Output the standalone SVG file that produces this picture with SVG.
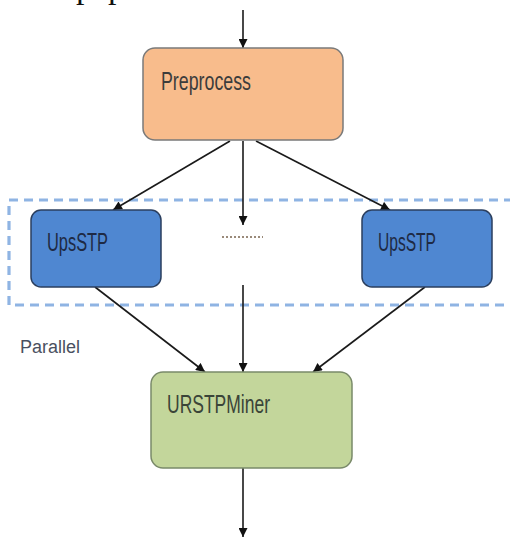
<svg xmlns="http://www.w3.org/2000/svg" width="510" height="539" viewBox="0 0 510 539">
  <style>
    .lbl { font-family: "Liberation Sans", Arial, sans-serif; font-size: 25px; }
    .conn { stroke: #1a1a1a; stroke-width: 1.6; fill: none; marker-end: url(#arrow); }
  </style>
  <defs>
    <marker id="arrow" viewBox="0 0 10 10" refX="10" refY="5" markerWidth="11" markerHeight="9" markerUnits="userSpaceOnUse" orient="auto">
      <path d="M0,0 L10,5 L0,10 z" fill="#111"/>
    </marker>
  </defs>
  <rect x="0" y="0" width="510" height="539" fill="#ffffff"/>
  <text x="76" y="-2.5" font-family="Liberation Serif, Times New Roman, serif" font-size="34" fill="#111">pap</text>

  <rect id="parallel-box" x="9" y="200" width="510" height="105" fill="none" stroke="#8fb4e3" stroke-width="3.2" stroke-dasharray="9,6"/>

  <g id="connectors">
    <line class="conn" x1="243" y1="10" x2="243" y2="48"/>
    <line class="conn" x1="230" y1="141" x2="113" y2="210"/>
    <line class="conn" x1="243" y1="141" x2="243" y2="225"/>
    <line class="conn" x1="256" y1="141" x2="390" y2="210"/>
    <line class="conn" x1="95" y1="287" x2="205" y2="372"/>
    <line class="conn" x1="243" y1="285" x2="243" y2="372"/>
    <line class="conn" x1="425" y1="287" x2="313" y2="372"/>
    <line class="conn" x1="243" y1="468" x2="243" y2="537"/>
  </g>

  <g id="preprocess">
    <rect x="143" y="48" width="200" height="92" rx="12" fill="#f8bc8c" stroke="#7a7a7a" stroke-width="1.5"/>
    <text class="lbl" x="161" y="90" fill="#3c3c3c" textLength="90" lengthAdjust="spacingAndGlyphs">Preprocess</text>
  </g>

  <g id="upsstp-left">
    <rect x="31" y="210" width="130" height="77" rx="10" fill="#4f87d1" stroke="#2b3f5f" stroke-width="1.5"/>
    <text class="lbl" x="47" y="251" fill="#1e2a44" textLength="61" lengthAdjust="spacingAndGlyphs">UpsSTP</text>
  </g>

  <g id="ellipsis">
    <line x1="222" y1="237" x2="263" y2="237" stroke="#9a8a7a" stroke-width="2" stroke-dasharray="2,2"/>
  </g>

  <g id="upsstp-right">
    <rect x="362" y="210" width="130" height="77" rx="10" fill="#4f87d1" stroke="#2b3f5f" stroke-width="1.5"/>
    <text class="lbl" x="378" y="251" fill="#1e2a44" textLength="58" lengthAdjust="spacingAndGlyphs">UpsSTP</text>
  </g>

  <g id="parallel-label">
    <text x="20" y="353" font-family="Liberation Sans, Arial, sans-serif" font-size="18" fill="#4a5060" textLength="60" lengthAdjust="spacingAndGlyphs">Parallel</text>
  </g>

  <g id="urstpminer">
    <rect x="151" y="372" width="201" height="96" rx="12" fill="#c3d69b" stroke="#7a8a6a" stroke-width="1.5"/>
    <text class="lbl" x="167" y="413" fill="#3a4438" textLength="103" lengthAdjust="spacingAndGlyphs">URSTPMiner</text>
  </g>
</svg>
